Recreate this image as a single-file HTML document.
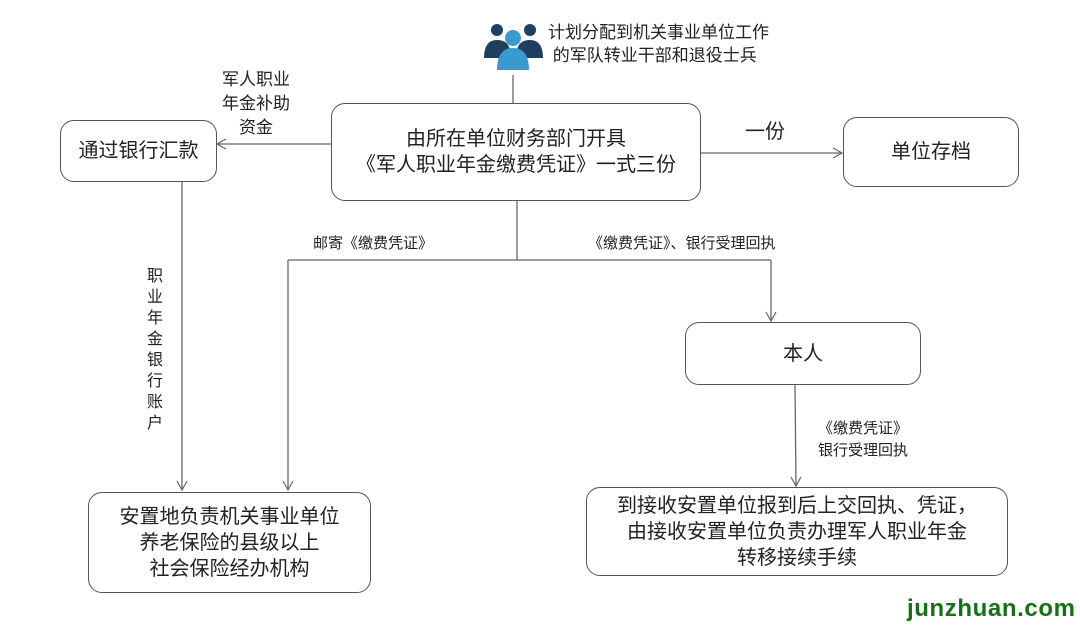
<!DOCTYPE html>
<html><head><meta charset="utf-8"><style>
body{margin:0;width:1080px;height:629px;background:#fff;overflow:hidden;position:relative;font-family:"Liberation Sans","Noto Sans CJK SC",sans-serif;color:#222}
.b{position:absolute;border:1.5px solid #555;border-radius:14px;box-sizing:border-box;display:flex;align-items:center;justify-content:center;text-align:center;font-size:20px;line-height:26px}
.t{position:absolute;white-space:nowrap;color:#222}
</style></head><body>
<svg width="1080" height="629" style="position:absolute;left:0;top:0">
<defs><marker id="a" markerWidth="12" markerHeight="12" refX="10" refY="6" orient="auto" markerUnits="userSpaceOnUse"><path d="M1,1 L10,6 L1,11" fill="none" stroke="#666" stroke-width="1.2"/></marker></defs>
<g stroke="#666" stroke-width="1.3" fill="none">
<line x1="513" y1="75" x2="513" y2="103"/>
<line x1="331" y1="144" x2="217" y2="144" marker-end="url(#a)"/>
<line x1="701" y1="153" x2="842" y2="153" marker-end="url(#a)"/>
<line x1="517" y1="201" x2="517" y2="260"/>
<line x1="288" y1="260" x2="771" y2="260"/>
<line x1="288" y1="260" x2="288" y2="490" marker-end="url(#a)"/>
<line x1="771" y1="260" x2="771" y2="321" marker-end="url(#a)"/>
<line x1="182" y1="181" x2="182" y2="490" marker-end="url(#a)"/>
<line x1="795" y1="385" x2="796" y2="486" marker-end="url(#a)"/>
</g>
<g>
<circle cx="497" cy="30" r="6" fill="#1f3f5f"/><circle cx="530" cy="30" r="6" fill="#1f3f5f"/>
<path d="M484,58 Q484,40 497,40 Q508,40 510,50 L510,58Z" fill="#1f3f5f"/>
<path d="M543,58 Q543,40 530,40 Q519,40 517,50 L517,58Z" fill="#1f3f5f"/>
<circle cx="513" cy="38" r="8" fill="#3a9ad0"/>
<path d="M497,70 Q497,48 513,48 Q529,48 529,70Z" fill="#3a9ad0"/>
</g>
</svg>
<div class="t" style="left:548px;top:21px;font-size:17px;line-height:23px">计划分配到机关事业单位工作<br>&nbsp;的军队转业干部和退役士兵</div>
<div class="b" style="left:331px;top:103px;width:370px;height:98px">由所在单位财务部门开具<br>《军人职业年金缴费凭证》一式三份</div>
<div class="b" style="left:60px;top:120px;width:157px;height:62px">通过银行汇款</div>
<div class="t" style="left:222px;top:68px;font-size:17px;line-height:24px;text-align:center">军人职业<br>年金补助<br>资金</div>
<div class="b" style="left:843px;top:117px;width:176px;height:70px">单位存档</div>
<div class="t" style="left:745px;top:115px;font-size:20px">一份</div>
<div class="t" style="left:313px;top:232px;font-size:15px">邮寄《缴费凭证》</div>
<div class="t" style="left:588px;top:232px;font-size:15px">《缴费凭证》、银行受理回执</div>
<div class="t" style="left:147px;top:266px;font-size:16px;line-height:21px;width:18px;white-space:normal">职业年金银行账户</div>
<div class="b" style="left:88px;top:492px;width:283px;height:101px">安置地负责机关事业单位<br>养老保险的县级以上<br>社会保险经办机构</div>
<div class="b" style="left:685px;top:322px;width:236px;height:63px">本人</div>
<div class="t" style="left:818px;top:418px;font-size:15px;line-height:22px">《缴费凭证》<br>银行受理回执</div>
<div class="b" style="left:586px;top:487px;width:422px;height:89px">到接收安置单位报到后上交回执、凭证，<br>由接收安置单位负责办理军人职业年金<br>转移接续手续</div>
<div class="t" style="left:907px;top:595px;font-size:24px;font-weight:bold;letter-spacing:0.6px;color:#177017">junzhuan.com</div>
</body></html>
